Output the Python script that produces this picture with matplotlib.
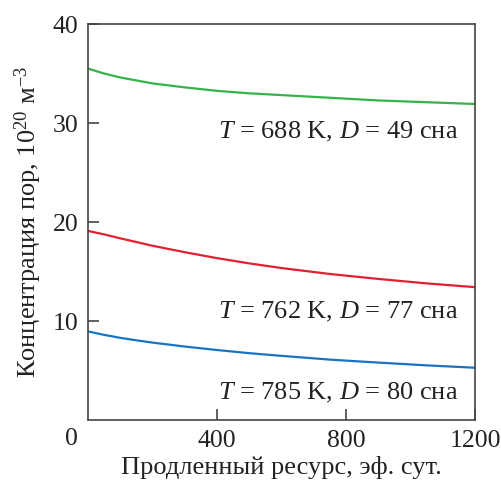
import matplotlib
matplotlib.use("Agg")
import matplotlib.pyplot as plt

plt.rcParams['font.family'] = ['Liberation Serif', 'DejaVu Serif']
plt.rcParams['mathtext.fontset'] = 'custom'
plt.rcParams['mathtext.rm'] = 'Liberation Serif'
plt.rcParams['mathtext.it'] = 'Liberation Serif:italic'

# values
x_days = [0, 50, 100, 150, 200, 300, 400, 500, 600, 750, 900, 1050, 1200]
green = [35.5, 35.0, 34.6, 34.3, 34.0, 33.6, 33.25, 33.0, 32.82, 32.55, 32.28, 32.1, 31.92]
red = [19.1, 18.75, 18.35, 17.98, 17.6, 16.95, 16.35, 15.82, 15.35, 14.75, 14.25, 13.8, 13.42]
blue = [8.95, 8.6, 8.3, 8.05, 7.82, 7.42, 7.07, 6.75, 6.48, 6.1, 5.8, 5.52, 5.28]

labels = [r"$T$ = 688 K, $D$ = 49 сна",
          r"$T$ = 762 K, $D$ = 77 сна",
          r"$T$ = 785 K, $D$ = 80 сна"]
label_y = [29.1, 10.95, 2.75]

fs = 19

fig = plt.figure(figsize=(5.01, 4.86), dpi=100)
ax = fig.add_axes([0.1756, 0.1358, 0.7725, 0.8148])

for ys, c in [(green, '#35b44a'), (red, '#e2202f'), (blue, '#1874c1')]:
    ax.plot(x_days, ys, color=c, lw=1.6)

for txt, y in zip(labels, label_y):
    ax.text(1147, y, txt, ha='right', va='center', fontsize=fs, color='#222222')

ax.set_xlim(0, 1200)
ax.set_ylim(0, 40)
ax.set_xticks([400, 800, 1200])
ax.set_yticks([10, 20, 30, 40])
ax.tick_params(direction='in', length=8, width=1.2, labelsize=18.5,
               colors='#444444', labelcolor='#222222', pad=7,
               top=False, right=False)
for s in ax.spines.values():
    s.set_color('#444444')
    s.set_linewidth(1.2)

# shared zero at the corner
ax.text(-0.042, -0.02, '0', transform=ax.transAxes, ha='center', va='top',
        fontsize=18.5, color='#222222')

ax.set_xlabel('Продленный ресурс, эф. сут.', fontsize=fs, color='#222222', labelpad=3)
ax.set_ylabel(r'Концентрация пор, 10$^{20}$ м$^{-3}$', fontsize=fs,
              color='#222222', labelpad=6)

fig.savefig('out.png', dpi=100)
